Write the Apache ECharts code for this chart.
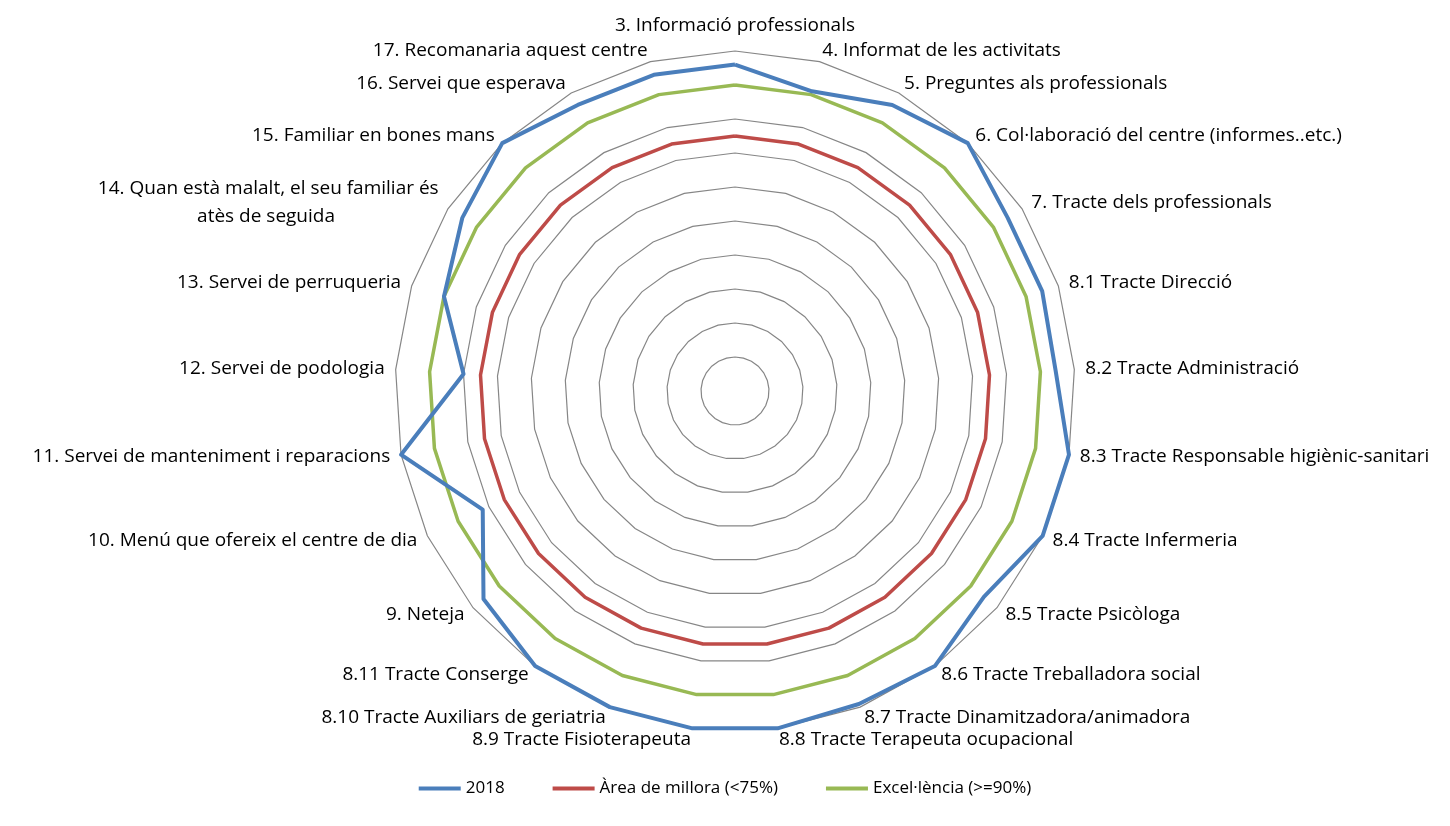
<!DOCTYPE html>
<html>
<head>
    <meta charset="utf-8">
    <title>Radar 2018</title>
    <script src="https://cdn.jsdelivr.net/npm/echarts@6/dist/echarts.min.js"></script>
</head>
<style>
    html, body {
        margin: 0;
        background: #fff;
    }
    #main {
        width: 1450px;
        height: 826px;
    }
</style>
<body>
    <div id="main"></div>
    <script type="text/javascript">
        // indicadors, en ordre horari des de dalt
        var categories = [
            '3. Informació professionals',
            '4. Informat de les activitats',
            '5. Preguntes als professionals',
            '6. Col·laboració del centre (informes..etc.)',
            '7. Tracte dels professionals',
            '8.1 Tracte Direcció',
            '8.2 Tracte Administració',
            '8.3 Tracte Responsable higiènic-sanitari',
            '8.4 Tracte Infermeria',
            '8.5 Tracte Psicòloga',
            '8.6 Tracte Treballadora social',
            '8.7 Tracte Dinamitzadora/animadora',
            '8.8 Tracte Terapeuta ocupacional',
            '8.9 Tracte Fisioterapeuta',
            '8.10 Tracte Auxiliars de geriatria',
            '8.11 Tracte Conserge',
            '9. Neteja',
            '10. Menú que ofereix el centre de dia',
            '11. Servei de manteniment i reparacions',
            '12. Servei de podologia',
            '13. Servei de perruqueria',
            '14. Quan està malalt, el seu familiar és\natès de seguida',
            '15. Familiar en bones mans',
            '16. Servei que esperava',
            '17. Recomanaria aquest centre'
        ];
        var values2018 = [0.96, 0.91, 0.96, 1.0, 0.95, 0.95, 0.945, 1.0, 1.0, 0.95, 1.0, 0.99, 1.0,
                          1.0, 1.0, 1.0, 0.96, 0.82, 1.0, 0.80, 0.90, 0.95, 1.0, 0.96, 0.96];
        var millora = [0.75, 0.75, 0.75, 0.75, 0.75, 0.75, 0.75, 0.75, 0.75, 0.75, 0.75, 0.75, 0.75,
                       0.75, 0.75, 0.75, 0.75, 0.75, 0.75, 0.75, 0.75, 0.75, 0.75, 0.75, 0.75];
        var excellencia = [0.9, 0.9, 0.9, 0.9, 0.9, 0.9, 0.9, 0.9, 0.9, 0.9, 0.9, 0.9, 0.9,
                           0.9, 0.9, 0.9, 0.9, 0.9, 0.9, 0.9, 0.9, 0.9, 0.9, 0.9, 0.9];
        var seriesNames = ['2018', 'Àrea de millora (<75%)', 'Excel·lència (>=90%)'];
        var colors = ['#4a7ebb', '#be4b48', '#98b954'];

        // echarts posa els indicadors en sentit antihorari: girem l'ordre
        function clockwise(arr) {
            return [arr[0]].concat(arr.slice(1).reverse());
        }

        // la segona línia del 14 va centrada sota la primera
        function centerSecondLine(name) {
            var parts = name.split('\n');
            if (parts.length < 2) return name;
            var pad = '';
            for (var k = 0; k < 21; k++) pad += '\u00a0';
            return parts[0] + '\n' + parts[1] + pad;
        }

        var indicator = clockwise(categories).map(function (name) {
            return { name: centerSecondLine(name), min: 0, max: 1 };
        });

        var allValues = [values2018, millora, excellencia];
        var series = [];
        for (var i = 0; i < seriesNames.length; i++) {
            series.push({
                type: 'radar',
                name: seriesNames[i],
                symbol: 'none',
                silent: true,
                z: 10 - i,
                lineStyle: { color: colors[i], width: i == 0 ? 4 : 3.5 },
                itemStyle: { color: colors[i] },
                data: [{ name: seriesNames[i], value: clockwise(allValues[i]) }]
            });
        }

        var option = {
            animation: false,
            textStyle: { fontFamily: 'Open Sans' },
            legend: {
                data: seriesNames,
                bottom: 24,
                left: 'center',
                icon: 'rect',
                itemWidth: 42,
                itemHeight: 4,
                itemGap: 48,
                textStyle: { fontSize: 17, color: '#000', fontFamily: 'Open Sans' }
            },
            radar: {
                center: [735, 391],
                radius: 340,
                startAngle: 90,
                shape: 'polygon',
                splitNumber: 10,
                nameGap: 11,
                axisName: { color: '#000', fontSize: 19, fontFamily: 'Open Sans', lineHeight: 28 },
                axisLine: { show: false },
                axisTick: { show: false },
                axisLabel: { show: false },
                splitArea: { show: false },
                splitLine: { lineStyle: { color: '#868686', width: 1.2 } },
                indicator: indicator
            },
            series: series
        };

        var myChart = echarts.init(document.getElementById('main'));
        myChart.setOption(option);
    </script>
</body>
</html>
